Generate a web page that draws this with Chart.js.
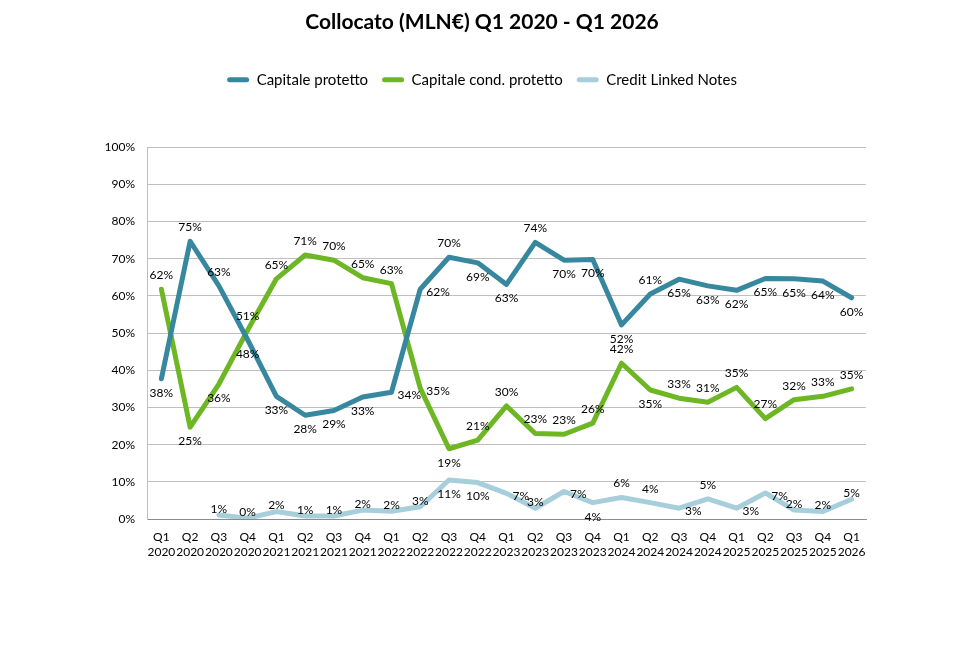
<!DOCTYPE html>
<html>
<head>
<meta charset="utf-8">
<script src="https://cdn.jsdelivr.net/npm/chart.js@4"></script>
<style>
    html, body { margin: 0; padding: 0; background: #fff; }
    #wrap { width: 964px; height: 656px; }
</style>
</head>
<body>
<div id="wrap"><canvas id="chart" width="964" height="656"></canvas></div>
<script>
const quarters = [
    'Q1 2020', 'Q2 2020', 'Q3 2020', 'Q4 2020',
    'Q1 2021', 'Q2 2021', 'Q3 2021', 'Q4 2021',
    'Q1 2022', 'Q2 2022', 'Q3 2022', 'Q4 2022',
    'Q1 2023', 'Q2 2023', 'Q3 2023', 'Q4 2023',
    'Q1 2024', 'Q2 2024', 'Q3 2024', 'Q4 2024',
    'Q1 2025', 'Q2 2025', 'Q3 2025', 'Q4 2025',
    'Q1 2026'
];

const capitaleProtetto = [
    37.7, 74.7, 62.7, 48.2, 33.0, 27.9, 29.2, 32.8, 34.1, 61.8,
    70.4, 68.9, 63.1, 74.4, 69.6, 69.8, 52.2, 60.5, 64.5, 62.7,
    61.5, 64.7, 64.6, 64.0, 59.5
];
const capitaleCondProtetto = [
    61.8, 24.7, 36.3, 50.8, 64.6, 71.0, 69.6, 64.9, 63.3, 35.2,
    18.9, 21.2, 30.4, 23.0, 22.8, 25.8, 41.9, 34.7, 32.5, 31.4,
    35.4, 27.0, 32.1, 33.0, 35.0
];
const creditLinkedNotes = [
    null, null, 1.1, 0.2, 2.0, 0.8, 0.8, 2.4, 2.1, 3.3,
    10.5, 9.8, 6.9, 2.9, 7.4, 4.4, 5.8, 4.4, 2.9, 5.4,
    2.9, 7.0, 2.4, 2.0, 5.3
];

const yTicks = [0, 10, 20, 30, 40, 50, 60, 70, 80, 90, 100];

// where each value label sits: a = above, b = below, r = right, c = on the point
const placeProtetto = [
    'b', 'a', 'a', 'b', 'b', 'b', 'b', 'b', 'r', 'r',
    'a', 'b', 'b', 'a', 'b', 'b', 'b', 'a', 'b', 'b',
    'b', 'b', 'b', 'b', 'b'
];
const placeCond = [
    'a', 'b', 'b', 'a', 'a', 'a', 'a', 'a', 'a', 'r',
    'b', 'a', 'a', 'a', 'a', 'a', 'a', 'b', 'a', 'a',
    'a', 'a', 'a', 'a', 'a'
];
const placeCln = [
    'c', 'c', 'c', 'c', 'c', 'c', 'c', 'c', 'c', 'c',
    'b', 'b', 'r', 'c', 'r', 'b', 'a', 'a', 'r', 'a',
    'r', 'r', 'c', 'c', 'c'
];

const FONT = 'Lato, "Open Sans", sans-serif';

const valueLabels = {
    id: 'valueLabels',
    afterDatasetsDraw(chart) {
        const ctx = chart.ctx;
        const places = [placeProtetto, placeCond, placeCln];
        ctx.save();
        ctx.font = '12px ' + FONT;
        ctx.fillStyle = '#000';
        chart.data.datasets.forEach((ds, di) => {
            const meta = chart.getDatasetMeta(di);
            meta.data.forEach((pt, i) => {
                const v = ds.data[i];
                if (v === null || v === undefined) return;
                const txt = Math.round(v) + '%';
                const p = places[di][i];
                let x = pt.x, y = pt.y;
                ctx.textAlign = 'center';
                ctx.textBaseline = 'middle';
                if (p === 'a') y -= 14;
                else if (p === 'b') y += 14;
                else if (p === 'r') { ctx.textAlign = 'left'; x += 6; y += 3; }
                else y -= 6;
                ctx.fillText(txt, x, y);
            });
        });
        ctx.restore();
    }
};

// extra room under the legend, so the plot starts lower
const legendGap = {
    id: 'legendGap',
    beforeInit(chart) {
        const fit = chart.legend.fit;
        chart.legend.fit = function () {
            fit.bind(chart.legend)();
            this.height += 50;
        };
    }
};

const legendLabels = (chart) => {
    const items = Chart.defaults.plugins.legend.labels.generateLabels(chart);
    items.forEach(it => { it.lineWidth = 0; it.borderRadius = 2.5; });
    return items;
};

new Chart(document.getElementById('chart'), {
    type: 'line',
    data: {
        labels: quarters,
        datasets: [
            {
                label: 'Capitale protetto',
                data: capitaleProtetto,
                borderColor: '#37889f',
                backgroundColor: '#37889f',
                borderWidth: 5
            },
            {
                label: 'Capitale cond. protetto',
                data: capitaleCondProtetto,
                borderColor: '#6db624',
                backgroundColor: '#6db624',
                borderWidth: 5
            },
            {
                label: 'Credit Linked Notes',
                data: creditLinkedNotes,
                borderColor: '#a7cedb',
                backgroundColor: '#a7cedb',
                borderWidth: 5
            }
        ]
    },
    options: {
        responsive: false,
        animation: false,
        layout: { padding: { left: 0, right: 0, top: 10, bottom: 0 } },
        elements: {
            point: { radius: 0, hoverRadius: 0 },
            line: { tension: 0, borderJoinStyle: 'round', borderCapStyle: 'round' }
        },
        plugins: {
            title: {
                display: true,
                text: 'Collocato (MLN€) Q1 2020 - Q1 2026',
                color: '#000',
                font: { family: FONT, size: 21, weight: 'bold' },
                padding: { top: 0, bottom: 23 },
                align: 'center'
            },
            legend: {
                position: 'top',
                labels: {
                    generateLabels: legendLabels,
                    color: '#000',
                    font: { family: FONT, size: 15 },
                    boxWidth: 22,
                    boxHeight: 5,
                    useBorderRadius: true,
                    borderRadius: 2.5,
                    padding: 14
                }
            },
            tooltip: { enabled: false }
        },
        scales: {
            x: {
                offset: true,
                afterFit: (scale) => { scale.height = 137; },
                grid: { display: false, drawTicks: false },
                border: { color: '#8c8c8c', width: 1 },
                ticks: {
                    autoSkip: false,
                    maxRotation: 0,
                    padding: 10,
                    color: '#000',
                    font: { family: FONT, size: 12, lineHeight: 1.3 },
                    callback: function (val) {
                        return this.getLabelForValue(val).split(' ');
                    }
                }
            },
            y: {
                min: 0,
                max: 100,
                afterFit: (scale) => { scale.width = 147; },
                afterBuildTicks: (scale) => { scale.ticks = yTicks.map(v => ({ value: v })); },
                grid: { color: '#bfbfbf', lineWidth: 1, drawTicks: false },
                border: { color: '#bfbfbf', width: 1 },
                ticks: {
                    padding: 12,
                    color: '#000',
                    font: { family: FONT, size: 12 },
                    callback: (v) => v + '%'
                }
            },
            // empty axis that only keeps the white margin on the right
            yRight: {
                position: 'right',
                min: 0,
                max: 100,
                afterFit: (scale) => { scale.width = 98; },
                grid: { display: false, drawTicks: false },
                border: { display: false },
                ticks: { display: false }
            }
        }
    },
    plugins: [valueLabels, legendGap]
});
</script>
</body>
</html>
